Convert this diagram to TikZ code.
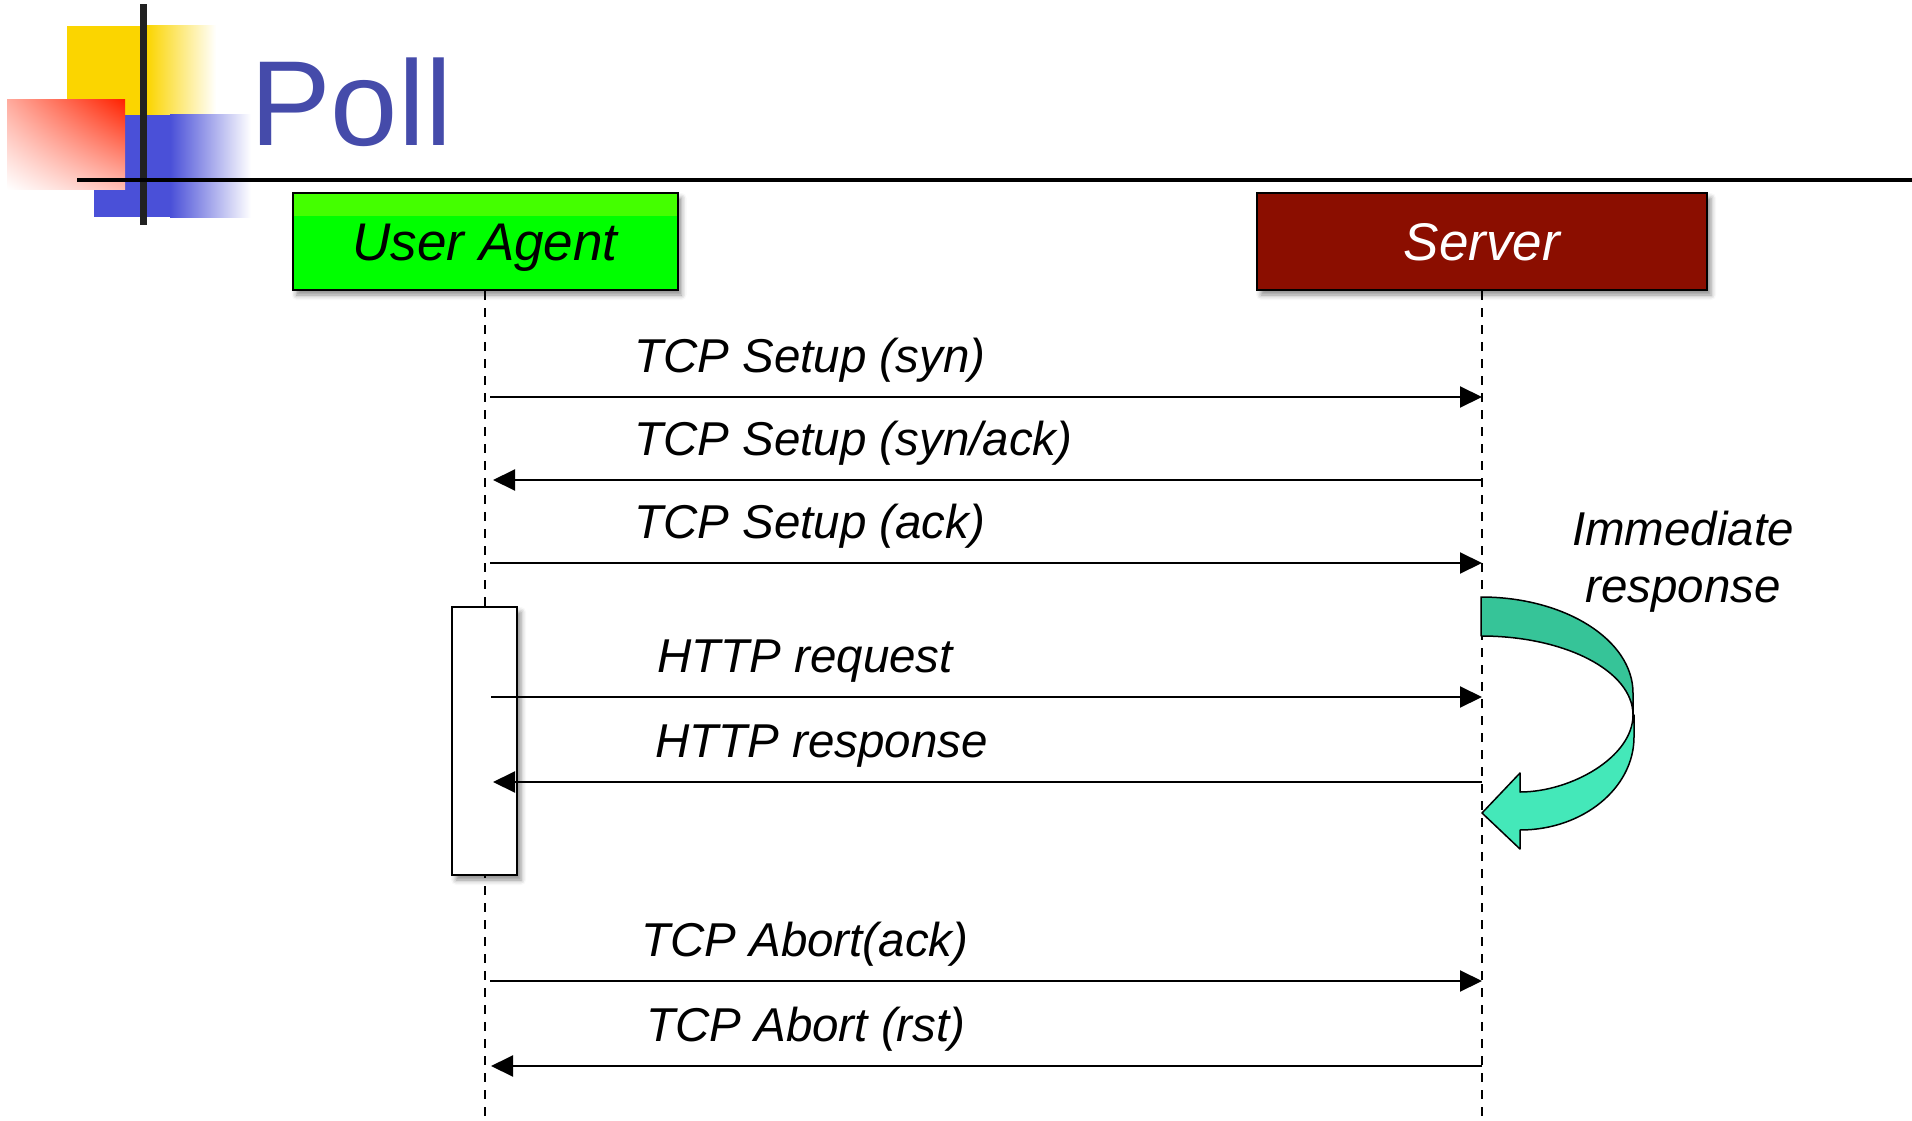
\documentclass[tikz,border=0pt]{standalone}
\usepackage{fontspec}
\setmainfont{Liberation Sans}
\usetikzlibrary{arrows.meta,shadows.blur,shadings}

\definecolor{pollblue}{RGB}{69,75,170}
\definecolor{logoyellow}{RGB}{251,213,0}
\definecolor{logoblue}{RGB}{74,80,216}
\definecolor{logored}{RGB}{255,34,0}
\definecolor{uagreen}{RGB}{0,255,0}
\definecolor{uagreentop}{RGB}{68,255,0}
\definecolor{srvred}{RGB}{139,14,0}
\definecolor{turnback}{RGB}{54,196,152}
\definecolor{turnfront}{RGB}{68,232,185}

\begin{document}
\begin{tikzpicture}[x=1pt,y=-1pt,
  boxshadow/.style={blur shadow={shadow xshift=4pt,shadow yshift=-5pt,shadow blur radius=5pt,shadow opacity=45}},
  actor/.style={draw=black,line width=2pt,minimum height=97pt,inner sep=0pt,
    text height=38pt,text depth=0pt,
    font=\fontsize{53}{60}\selectfont\itshape,boxshadow},
  lifeline/.style={line width=2.5pt,dash pattern=on 9pt off 8pt},
  msg/.style={line width=2pt,-{Triangle[length=22pt,width=21pt]}},
  msglabel/.style={anchor=base west,inner sep=0pt,font=\fontsize{47.5}{55}\selectfont\itshape},
  note/.style={anchor=base,inner sep=0pt,font=\fontsize{47.5}{57}\selectfont\itshape},
  turn/.style={draw=black,line width=1.5pt,line join=round},
]
\useasboundingbox (0,0) rectangle (1912,1121);

% ---- logo ----
\fill[logoyellow] (67,26) rectangle (148,115);
\shade[left color=logoyellow,right color=white] (147,26) rectangle (216,115);
\fill[logoblue] (94,115) rectangle (171,217);
\shade[left color=logoblue,right color=white] (170,115) rectangle (251,217);
\shade[upper left=logored!38,upper right=logored,lower left=white,lower right=logored!30]
  (7,100) rectangle (125,189);
\fill[black!87] (140,4) rectangle (147,225);

% ---- title and rule ----
\node[anchor=base west,inner sep=0pt,text=pollblue,font=\fontsize{121}{124}\selectfont]
  (title) at (250,146) {Poll};
\draw[line width=4.5pt] (77,180) -- (1912,180);

% ---- participants ----
\node[actor,fill=uagreen,minimum width=385pt,
  path picture={\fill[uagreentop] (path picture bounding box.north west)
    rectangle ([yshift=-23pt]path picture bounding box.north east);}]
  (ua) at (485,241.5) {User Agent};
\node[actor,fill=srvred,text=white,minimum width=450pt] (sv) at (1482,241.5) {Server};

\coordinate (uaEnd) at (485,1121);
\coordinate (svEnd) at (1482,1121);
\draw[lifeline] (ua.south) -- (uaEnd);
\draw[lifeline] (sv.south) -- (svEnd);

% ---- activation box ----
\node[draw=black,line width=2pt,fill=white,minimum width=65pt,minimum height=268pt,
  inner sep=0pt,boxshadow] (act) at (484.5,741) {};

% ---- message anchor points on the lifelines ----
\foreach \n/\y in {syn/397,synack/480,ack/563,req/697,resp/782,abrtack/981,abrtrst/1066}{
  \coordinate (ua-\n) at (485,\y);
  \coordinate (sv-\n) at (1482,\y);
}

% ---- messages ----
\draw[msg] ([xshift=5pt]ua-syn) -- (sv-syn);
\draw[msg] (sv-synack) -- ([xshift=8pt]ua-synack);
\draw[msg] ([xshift=5pt]ua-ack) -- (sv-ack);
\draw[msg] ([xshift=6pt]ua-req) -- (sv-req);
\draw[msg] (sv-resp) -- ([xshift=8pt]ua-resp);
\draw[msg] ([xshift=5pt]ua-abrtack) -- (sv-abrtack);
\draw[msg] (sv-abrtrst) -- ([xshift=6pt]ua-abrtrst);

\node[msglabel] (l-syn)     at (634,372)  {TCP Setup (syn)};
\node[msglabel] (l-synack)  at (634,455)  {TCP Setup (syn/ack)};
\node[msglabel] (l-ack)     at (634,538)  {TCP Setup (ack)};
\node[msglabel] (l-req)     at (657,672)  {HTTP request};
\node[msglabel] (l-resp)    at (655,757)  {HTTP response};
\node[msglabel] (l-abrtack) at (641,956)  {TCP Abort(ack)};
\node[msglabel] (l-abrtrst) at (646,1041) {TCP Abort (rst)};

% ---- turn-around arrow at the server ----
\filldraw[turn,fill=turnback]
  (1481,597) .. controls (1565,597) and (1633,640) .. (1633,693)
  -- (1633,715) .. controls (1633,671) and (1565,636) .. (1481,636) -- cycle;
\filldraw[turn,fill=turnfront]
  (1633,715) .. controls (1633,757) and (1571,792) .. (1520,792)
  -- (1520,773) -- (1482,813) -- (1520,849) -- (1520,830)
  .. controls (1583,830) and (1634,788) .. (1634,737) -- (1634,715) -- cycle;

\node[note] (note1) at (1683,545) {Immediate};
\node[note] (note2) at (1683,602) {response};
\end{tikzpicture}
\end{document}
